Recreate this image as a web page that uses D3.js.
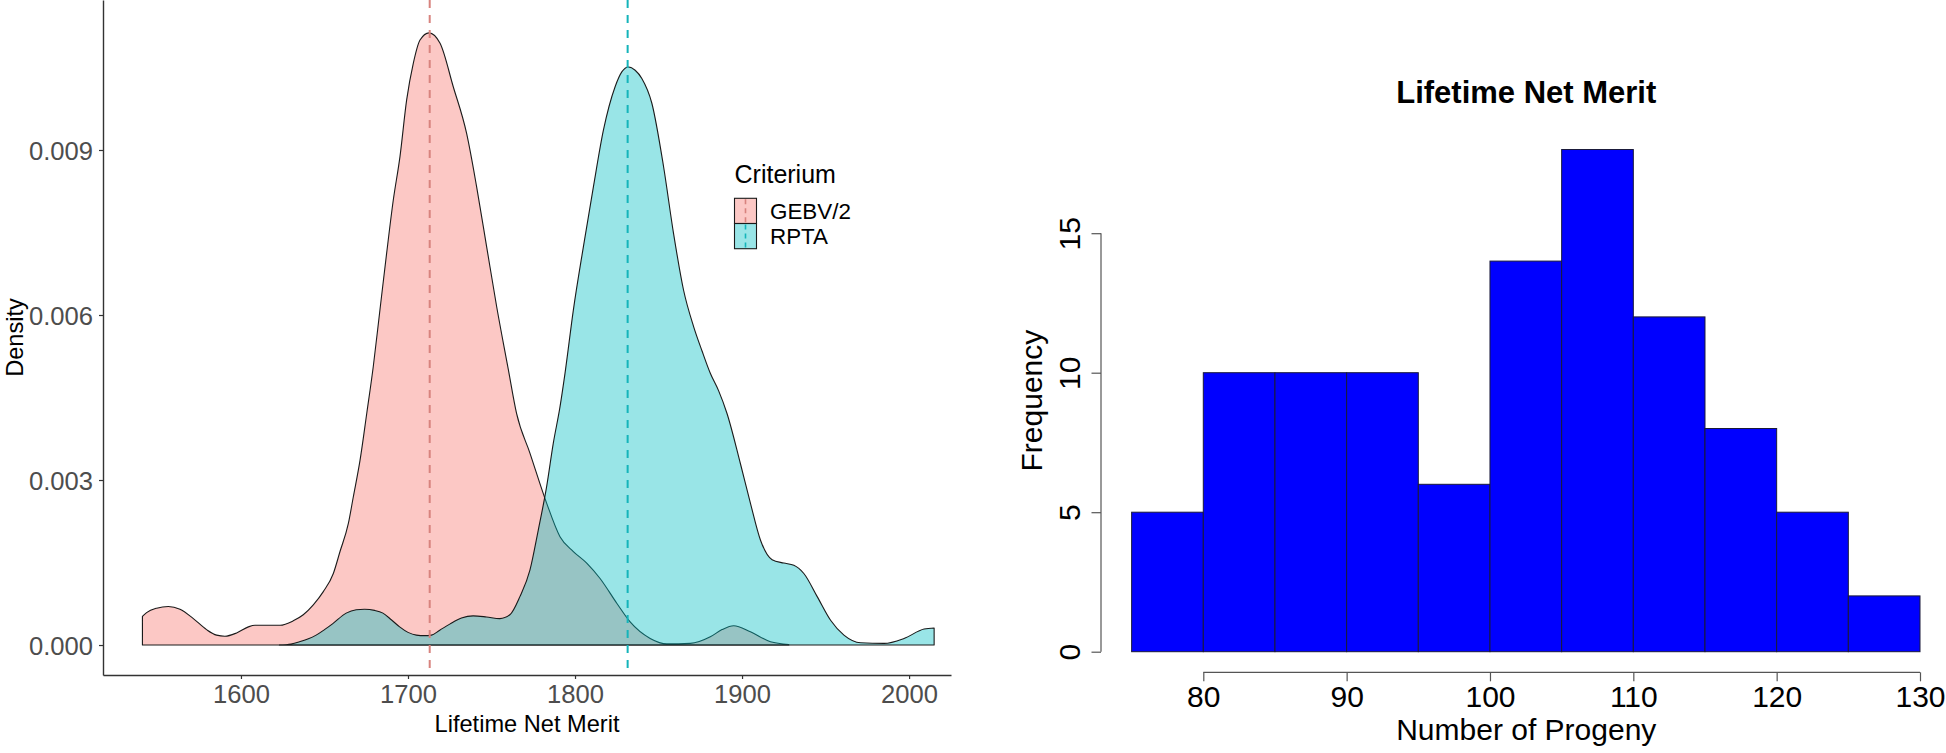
<!DOCTYPE html>
<html>
<head>
<meta charset="utf-8">
<script src="https://cdn.jsdelivr.net/npm/d3@7/dist/d3.min.js"></script>
<style>
  html, body { margin: 0; padding: 0; background: #fff; }
  svg { display: block; font-family: "Liberation Sans", Arial, sans-serif; }
</style>
</head>
<body>
<svg id="chart" width="1946" height="753"></svg>
<script>
// ---------- Data: left panel (density of Lifetime Net Merit) ----------
const criteria = ["GEBV/2", "RPTA"];
const gebvX = [1541,1543.5,1549.5,1556.5,1563.5,1571.5,1579.4,1585.4,1590.4,1597.4,1604.4,1608.4,1616,1623.4,1631.3,1637.3,1643.3,1649.3,1655.3,1659.3,1664.3,1667.3,1671.3,1675.3,1679.2,1683.2,1687.2,1691.2,1695.2,1699.2,1703.2,1707.2,1712.6,1719.2,1727.1,1735.1,1741.1,1747.1,1753.1,1760,1765,1773,1783,1791,1799,1807,1815,1825,1833,1845,1855,1869,1881,1888,1895,1905,1917,1928];
const gebvY = [0.00052,0.00059,0.00067,0.0007,0.00065,0.00048,0.00028,0.00018,0.00016,0.00022,0.00033,0.00036,0.00036,0.00036,0.00044,0.00055,0.00073,0.00097,0.0013,0.0017,0.00221,0.0027,0.00336,0.00421,0.00506,0.00609,0.00712,0.00809,0.00888,0.00991,0.01058,0.011,0.01113,0.01094,0.01015,0.0093,0.00833,0.00724,0.00615,0.00502,0.00421,0.00349,0.00258,0.00197,0.0017,0.00149,0.00121,0.00076,0.00042,0.00012,0.00002,0.00003,0.00015,0.00028,0.00035,0.00024,0.00006,0.00001];
const rptaX = [1623,1630,1635,1640,1645,1650,1655,1663,1669,1674,1680,1685,1690,1695,1700,1705,1710,1714,1719,1725,1732,1739,1747,1755,1761,1767,1773,1778,1783,1787,1791,1794,1799,1805,1811,1817,1824,1828,1832,1836,1840,1846,1853,1859,1865,1871,1876,1881,1886,1891,1899,1905,1911,1918,1925,1931,1937,1945,1953,1961,1971,1985,1997,2009,2015];
const rptaY = [0,0.00002,0.00006,0.00011,0.00018,0.00028,0.00039,0.00058,0.00064,0.00065,0.00063,0.00058,0.00046,0.00033,0.00023,0.00018,0.00017,0.00018,0.00027,0.00038,0.00049,0.00053,0.00051,0.00048,0.00055,0.00088,0.00136,0.00209,0.00288,0.00367,0.00433,0.00494,0.00609,0.00724,0.00833,0.00936,0.01015,0.01042,0.01051,0.01045,0.0103,0.00985,0.0087,0.00748,0.00645,0.00579,0.00535,0.00494,0.00462,0.00421,0.0033,0.00258,0.00191,0.00155,0.00149,0.00145,0.0013,0.00088,0.00045,0.00018,0.00004,0.00003,0.00012,0.00029,0.00031];
const criterionMeans = [1713, 1831.5];
const leftXTicks = [1600, 1700, 1800, 1900, 2000];
const leftYTicks = [0, 0.003, 0.006, 0.009];
const leftYTickLabels = ["0.000", "0.003", "0.006", "0.009"];

// ---------- Data: right panel (histogram of Number of Progeny) ----------
const binEdges = [75, 80, 85, 90, 95, 100, 105, 110, 115, 120, 125, 130];
const binCounts = [5, 10, 10, 10, 6, 14, 18, 12, 8, 5, 2];
const rightXTicks = [80, 90, 100, 110, 120, 130];
const rightYTicks = [0, 5, 10, 15];

// ---------- Setup ----------
const svg = d3.select("#chart");
svg.append("rect").attr("width", 1946).attr("height", 753).attr("fill", "#fff");

const fills = ["#F8766D", "#00BFC4"];
const vlineColors = ["#D8837E", "#14B4BA"];

// ===== Left panel =====
const xL = d3.scaleLinear().domain([1517.4, 2025.1]).range([103, 951]);
const yL = d3.scaleLinear().domain([-0.000545, 0.011727]).range([675, 0]);

const series = [
  gebvX.map((x, i) => [x, gebvY[i]]),
  rptaX.map((x, i) => [x, rptaY[i]])
];

const area = d3.area()
  .x(d => xL(d[0]))
  .y0(yL(0))
  .y1(d => yL(d[1]))
  .curve(d3.curveMonotoneX);

const gL = svg.append("g");
series.forEach((s, i) => {
  gL.append("path")
    .attr("d", area(s) + "Z")
    .attr("fill", fills[i])
    .attr("fill-opacity", 0.4)
    .attr("stroke", "#1a1a1a")
    .attr("stroke-width", 1.1)
    .attr("stroke-linejoin", "round");
});

criterionMeans.forEach((m, i) => {
  gL.append("line")
    .attr("x1", xL(m)).attr("x2", xL(m))
    .attr("y1", yL.range()[1]).attr("y2", yL.range()[0])
    .attr("stroke", vlineColors[i])
    .attr("stroke-width", 2)
    .attr("stroke-dasharray", "8,7");
});

// Axes
const axL = svg.append("g").attr("transform", `translate(0,${yL.range()[0]})`)
  .call(d3.axisBottom(xL).tickValues(leftXTicks).tickSize(4).tickSizeOuter(0).tickPadding(6)
    .tickFormat(d3.format("d")));
const ayL = svg.append("g").attr("transform", `translate(${xL.range()[0]},0)`)
  .call(d3.axisLeft(yL).tickValues(leftYTicks).tickSize(4).tickSizeOuter(0).tickPadding(6)
    .tickFormat((d, i) => leftYTickLabels[i]));
[axL, ayL].forEach(a => {
  a.select(".domain").attr("stroke", "#333").attr("stroke-width", 1.4);
  a.selectAll(".tick line").attr("stroke", "#333").attr("stroke-width", 1.2);
  a.selectAll(".tick text").attr("fill", "#4D4D4D").style("font-size", "25.6px")
    .style("font-family", "'Liberation Sans', Arial, sans-serif");
});
axL.selectAll(".tick text").attr("dy", null).attr("y", 28);
ayL.selectAll(".tick text").attr("dy", "0.36em");

svg.append("text")
  .attr("x", (xL.range()[0] + xL.range()[1]) / 2).attr("y", 731.5)
  .attr("text-anchor", "middle").style("font-size", "23.6px").attr("fill", "#000")
  .text("Lifetime Net Merit");
svg.append("text")
  .attr("transform", `translate(23,${(yL.range()[0] + yL.range()[1]) / 2}) rotate(-90)`)
  .attr("text-anchor", "middle").style("font-size", "23.6px").attr("fill", "#000")
  .text("Density");

// Legend
const keyH = 25.2;
const lg = svg.append("g").attr("transform", "translate(734.5,0)");
lg.append("text").attr("x", 0).attr("y", 182.5).style("font-size", "25px").attr("fill", "#000").text("Criterium");
criteria.forEach((c, i) => {
  const y0 = 198.3 + i * keyH;
  lg.append("rect").attr("x", 0).attr("y", y0).attr("width", 22).attr("height", keyH)
    .attr("fill", fills[i]).attr("fill-opacity", 0.4)
    .attr("stroke", "#1a1a1a").attr("stroke-width", 1.1);
  lg.append("line").attr("x1", 11).attr("x2", 11).attr("y1", y0 + 1).attr("y2", y0 + keyH - 1)
    .attr("stroke", vlineColors[i]).attr("stroke-width", 1.6).attr("stroke-dasharray", "5,4");
  lg.append("text").attr("x", 35.5).attr("y", y0 + keyH / 2).attr("dy", "0.36em")
    .style("font-size", "22.4px").attr("fill", "#000").text(c);
});

// ===== Right panel =====
const xR = d3.scaleLinear().domain([80, 130]).range([1203.3, 1920]);
const yR = d3.scaleLinear().domain([0, 18]).range([651.7, 149.5]);

const gR = svg.append("g");
gR.selectAll("rect.bar").data(binCounts).enter().append("rect")
  .attr("class", "bar")
  .attr("x", (d, i) => xR(binEdges[i]))
  .attr("width", (d, i) => xR(binEdges[i + 1]) - xR(binEdges[i]))
  .attr("y", d => yR(d))
  .attr("height", d => yR(0) - yR(d))
  .attr("fill", "#0000FF")
  .attr("stroke", "#1a1a3a")
  .attr("stroke-width", 1);

const axisXpos = 672.3, axisYpos = 1101;
const axR = svg.append("g").attr("transform", `translate(0,${axisXpos})`)
  .call(d3.axisBottom(xR).tickValues(rightXTicks).tickSize(9).tickSizeOuter(0).tickPadding(6));
axR.select(".domain").remove();
axR.append("line").attr("x1", xR(rightXTicks[0])).attr("x2", xR(rightXTicks[rightXTicks.length - 1]))
  .attr("y1", 0).attr("y2", 0).attr("stroke", "#555").attr("stroke-width", 1.2);
axR.selectAll(".tick line").attr("stroke", "#555").attr("stroke-width", 1.2);
axR.selectAll(".tick text").attr("dy", null).attr("y", 34.5).attr("fill", "#000")
  .style("font-size", "30px").style("font-family", "'Liberation Sans', Arial, sans-serif");

const ayR = svg.append("g").attr("transform", `translate(${axisYpos},0)`)
  .call(d3.axisLeft(yR).tickValues(rightYTicks).tickSize(9.5).tickSizeOuter(0));
ayR.select(".domain").remove();
ayR.append("line").attr("x1", 0).attr("x2", 0)
  .attr("y1", yR(rightYTicks[0])).attr("y2", yR(rightYTicks[rightYTicks.length - 1]))
  .attr("stroke", "#555").attr("stroke-width", 1.2);
ayR.selectAll(".tick line").attr("stroke", "#555").attr("stroke-width", 1.2);
ayR.selectAll(".tick text")
  .attr("x", null).attr("dy", null)
  .attr("text-anchor", "middle")
  .attr("transform", "translate(-21,0) rotate(-90)")
  .attr("fill", "#000")
  .style("font-size", "30px").style("font-family", "'Liberation Sans', Arial, sans-serif");

const plotCx = (xR.invert(axisYpos) + 132.2) / 2;
svg.append("text")
  .attr("x", xR(plotCx)).attr("y", 103)
  .attr("text-anchor", "middle").style("font-size", "31px").style("font-weight", "bold").attr("fill", "#000")
  .text("Lifetime Net Merit");
svg.append("text")
  .attr("x", xR(plotCx)).attr("y", 740)
  .attr("text-anchor", "middle").style("font-size", "30px").attr("fill", "#000")
  .text("Number of Progeny");
svg.append("text")
  .attr("transform", `translate(1041.5,${(yR(-0.72) + yR(18.72)) / 2}) rotate(-90)`)
  .attr("text-anchor", "middle").style("font-size", "30px").attr("fill", "#000")
  .text("Frequency");
</script>
</body>
</html>
